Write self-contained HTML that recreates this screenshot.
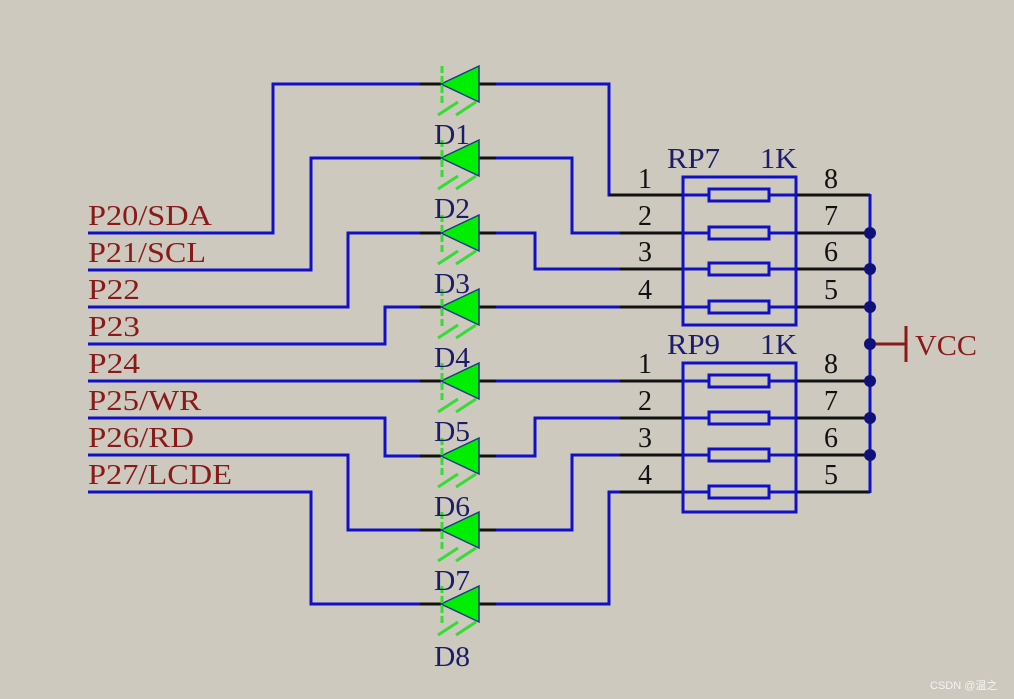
<!DOCTYPE html>
<html><head><meta charset="utf-8"><style>
html,body{margin:0;padding:0;background:#cdc9be;}
svg{display:block;}
.w{stroke:#1010c8;stroke-width:3;fill:none;}
.k{stroke:#111;stroke-width:3;fill:none;}
.lbl{font-family:"Liberation Serif",serif;font-size:29px;fill:#8a1a1a;}
.d{font-family:"Liberation Serif",serif;font-size:28px;fill:#1c1c6a;}
.n{font-family:"Liberation Serif",serif;font-size:28px;fill:#111;}
</style></head><body>
<svg width="1014" height="699" viewBox="0 0 1014 699" xmlns="http://www.w3.org/2000/svg">
<rect width="1014" height="699" fill="#cdc9be"/>
<g class="lbl" lengthAdjust="spacingAndGlyphs">
<text x="88" y="225" textLength="124" lengthAdjust="spacingAndGlyphs">P20/SDA</text>
<text x="88" y="262" textLength="118" lengthAdjust="spacingAndGlyphs">P21/SCL</text>
<text x="88" y="299" textLength="52" lengthAdjust="spacingAndGlyphs">P22</text>
<text x="88" y="336" textLength="52" lengthAdjust="spacingAndGlyphs">P23</text>
<text x="88" y="373" textLength="52" lengthAdjust="spacingAndGlyphs">P24</text>
<text x="88" y="410" textLength="113" lengthAdjust="spacingAndGlyphs">P25/WR</text>
<text x="88" y="447" textLength="106" lengthAdjust="spacingAndGlyphs">P26/RD</text>
<text x="88" y="484" textLength="144" lengthAdjust="spacingAndGlyphs">P27/LCDE</text>
</g>
<g class="w">
<polyline points="88,233 273,233 273,84 420,84"/>
<polyline points="88,270 311,270 311,158 420,158"/>
<polyline points="88,307 348,307 348,233 420,233"/>
<polyline points="88,344 385,344 385,307 420,307"/>
<polyline points="88,381 420,381"/>
<polyline points="88,418 385,418 385,456 420,456"/>
<polyline points="88,455 348,455 348,530 420,530"/>
<polyline points="88,492 311,492 311,604 420,604"/>
<polyline points="495,84 609,84 609,195 625,195"/>
<polyline points="495,158 572,158 572,233 625,233"/>
<polyline points="495,233 535,233 535,269 625,269"/>
<polyline points="495,307 625,307"/>
<polyline points="495,381 625,381"/>
<polyline points="495,456 535,456 535,418 625,418"/>
<polyline points="495,530 572,530 572,455 625,455"/>
<polyline points="495,604 609,604 609,492 625,492"/>
</g>
<g class="k">
<line x1="609" y1="195" x2="683" y2="195"/>
<line x1="620" y1="233" x2="683" y2="233"/>
<line x1="620" y1="269" x2="683" y2="269"/>
<line x1="620" y1="307" x2="683" y2="307"/>
<line x1="620" y1="381" x2="683" y2="381"/>
<line x1="620" y1="418" x2="683" y2="418"/>
<line x1="620" y1="455" x2="683" y2="455"/>
<line x1="620" y1="492" x2="683" y2="492"/>
<line x1="796" y1="195" x2="870" y2="195"/>
<line x1="796" y1="233" x2="870" y2="233"/>
<line x1="796" y1="269" x2="870" y2="269"/>
<line x1="796" y1="307" x2="870" y2="307"/>
<line x1="796" y1="381" x2="870" y2="381"/>
<line x1="796" y1="418" x2="870" y2="418"/>
<line x1="796" y1="455" x2="870" y2="455"/>
<line x1="796" y1="492" x2="870" y2="492"/>
</g>
<g>
<g transform="translate(0,84)"><line class="k" x1="420" y1="0" x2="441" y2="0"/><line class="k" x1="479" y1="0" x2="496" y2="0"/><polygon points="479,-18 479,18 441,0" fill="#00ee00" stroke="#1a3a8a" stroke-width="1.5"/><line x1="442" y1="-18" x2="442" y2="20" stroke="#33dd33" stroke-width="3" stroke-dasharray="7,3"/><line x1="458" y1="18" x2="438" y2="31" stroke="#33dd33" stroke-width="3"/><line x1="476" y1="18" x2="456" y2="31" stroke="#33dd33" stroke-width="3"/></g>
<g transform="translate(0,158)"><line class="k" x1="420" y1="0" x2="441" y2="0"/><line class="k" x1="479" y1="0" x2="496" y2="0"/><polygon points="479,-18 479,18 441,0" fill="#00ee00" stroke="#1a3a8a" stroke-width="1.5"/><line x1="442" y1="-18" x2="442" y2="20" stroke="#33dd33" stroke-width="3" stroke-dasharray="7,3"/><line x1="458" y1="18" x2="438" y2="31" stroke="#33dd33" stroke-width="3"/><line x1="476" y1="18" x2="456" y2="31" stroke="#33dd33" stroke-width="3"/></g>
<g transform="translate(0,233)"><line class="k" x1="420" y1="0" x2="441" y2="0"/><line class="k" x1="479" y1="0" x2="496" y2="0"/><polygon points="479,-18 479,18 441,0" fill="#00ee00" stroke="#1a3a8a" stroke-width="1.5"/><line x1="442" y1="-18" x2="442" y2="20" stroke="#33dd33" stroke-width="3" stroke-dasharray="7,3"/><line x1="458" y1="18" x2="438" y2="31" stroke="#33dd33" stroke-width="3"/><line x1="476" y1="18" x2="456" y2="31" stroke="#33dd33" stroke-width="3"/></g>
<g transform="translate(0,307)"><line class="k" x1="420" y1="0" x2="441" y2="0"/><line class="k" x1="479" y1="0" x2="496" y2="0"/><polygon points="479,-18 479,18 441,0" fill="#00ee00" stroke="#1a3a8a" stroke-width="1.5"/><line x1="442" y1="-18" x2="442" y2="20" stroke="#33dd33" stroke-width="3" stroke-dasharray="7,3"/><line x1="458" y1="18" x2="438" y2="31" stroke="#33dd33" stroke-width="3"/><line x1="476" y1="18" x2="456" y2="31" stroke="#33dd33" stroke-width="3"/></g>
<g transform="translate(0,381)"><line class="k" x1="420" y1="0" x2="441" y2="0"/><line class="k" x1="479" y1="0" x2="496" y2="0"/><polygon points="479,-18 479,18 441,0" fill="#00ee00" stroke="#1a3a8a" stroke-width="1.5"/><line x1="442" y1="-18" x2="442" y2="20" stroke="#33dd33" stroke-width="3" stroke-dasharray="7,3"/><line x1="458" y1="18" x2="438" y2="31" stroke="#33dd33" stroke-width="3"/><line x1="476" y1="18" x2="456" y2="31" stroke="#33dd33" stroke-width="3"/></g>
<g transform="translate(0,456)"><line class="k" x1="420" y1="0" x2="441" y2="0"/><line class="k" x1="479" y1="0" x2="496" y2="0"/><polygon points="479,-18 479,18 441,0" fill="#00ee00" stroke="#1a3a8a" stroke-width="1.5"/><line x1="442" y1="-18" x2="442" y2="20" stroke="#33dd33" stroke-width="3" stroke-dasharray="7,3"/><line x1="458" y1="18" x2="438" y2="31" stroke="#33dd33" stroke-width="3"/><line x1="476" y1="18" x2="456" y2="31" stroke="#33dd33" stroke-width="3"/></g>
<g transform="translate(0,530)"><line class="k" x1="420" y1="0" x2="441" y2="0"/><line class="k" x1="479" y1="0" x2="496" y2="0"/><polygon points="479,-18 479,18 441,0" fill="#00ee00" stroke="#1a3a8a" stroke-width="1.5"/><line x1="442" y1="-18" x2="442" y2="20" stroke="#33dd33" stroke-width="3" stroke-dasharray="7,3"/><line x1="458" y1="18" x2="438" y2="31" stroke="#33dd33" stroke-width="3"/><line x1="476" y1="18" x2="456" y2="31" stroke="#33dd33" stroke-width="3"/></g>
<g transform="translate(0,604)"><line class="k" x1="420" y1="0" x2="441" y2="0"/><line class="k" x1="479" y1="0" x2="496" y2="0"/><polygon points="479,-18 479,18 441,0" fill="#00ee00" stroke="#1a3a8a" stroke-width="1.5"/><line x1="442" y1="-18" x2="442" y2="20" stroke="#33dd33" stroke-width="3" stroke-dasharray="7,3"/><line x1="458" y1="18" x2="438" y2="31" stroke="#33dd33" stroke-width="3"/><line x1="476" y1="18" x2="456" y2="31" stroke="#33dd33" stroke-width="3"/></g>
</g>
<g class="d">
<text x="434" y="144" textLength="36" lengthAdjust="spacingAndGlyphs">D1</text>
<text x="434" y="218" textLength="36" lengthAdjust="spacingAndGlyphs">D2</text>
<text x="434" y="293" textLength="36" lengthAdjust="spacingAndGlyphs">D3</text>
<text x="434" y="367" textLength="36" lengthAdjust="spacingAndGlyphs">D4</text>
<text x="434" y="441" textLength="36" lengthAdjust="spacingAndGlyphs">D5</text>
<text x="434" y="516" textLength="36" lengthAdjust="spacingAndGlyphs">D6</text>
<text x="434" y="590" textLength="36" lengthAdjust="spacingAndGlyphs">D7</text>
<text x="434" y="666" textLength="36" lengthAdjust="spacingAndGlyphs">D8</text>
</g>
<g stroke="#1010c8" stroke-width="3" fill="none">
<rect x="683" y="177" width="113" height="148"/>
<rect x="683" y="363" width="113" height="149"/>
<line x1="683" y1="195" x2="796" y2="195"/><line x1="683" y1="233" x2="796" y2="233"/>
<line x1="683" y1="269" x2="796" y2="269"/><line x1="683" y1="307" x2="796" y2="307"/>
<line x1="683" y1="381" x2="796" y2="381"/><line x1="683" y1="418" x2="796" y2="418"/>
<line x1="683" y1="455" x2="796" y2="455"/><line x1="683" y1="492" x2="796" y2="492"/>
</g>
<g stroke="#1010c8" stroke-width="3" fill="#cdc9be">
<rect x="709" y="189" width="60" height="12"/><rect x="709" y="227" width="60" height="12"/>
<rect x="709" y="263" width="60" height="12"/><rect x="709" y="301" width="60" height="12"/>
<rect x="709" y="375" width="60" height="12"/><rect x="709" y="412" width="60" height="12"/>
<rect x="709" y="449" width="60" height="12"/><rect x="709" y="486" width="60" height="12"/>
</g>
<g class="d">
<text x="667" y="168" textLength="53" lengthAdjust="spacingAndGlyphs">RP7</text><text x="760" y="168" textLength="37" lengthAdjust="spacingAndGlyphs">1K</text>
<text x="667" y="354" textLength="53" lengthAdjust="spacingAndGlyphs">RP9</text><text x="760" y="354" textLength="37" lengthAdjust="spacingAndGlyphs">1K</text>
</g>
<g class="n">
<text x="638" y="188">1</text><text x="638" y="225">2</text><text x="638" y="261">3</text><text x="638" y="299">4</text>
<text x="638" y="373">1</text><text x="638" y="410">2</text><text x="638" y="447">3</text><text x="638" y="484">4</text>
<text x="824" y="188">8</text><text x="824" y="225">7</text><text x="824" y="261">6</text><text x="824" y="299">5</text>
<text x="824" y="373">8</text><text x="824" y="410">7</text><text x="824" y="447">6</text><text x="824" y="484">5</text>
</g>
<line x1="870" y1="194" x2="870" y2="493" stroke="#1010c8" stroke-width="3"/>
<g fill="#10107a">
<circle cx="870" cy="233" r="6"/><circle cx="870" cy="269" r="6"/><circle cx="870" cy="307" r="6"/>
<circle cx="870" cy="344" r="6"/><circle cx="870" cy="381" r="6"/><circle cx="870" cy="418" r="6"/><circle cx="870" cy="455" r="6"/>
</g>
<line x1="876" y1="344" x2="906" y2="344" stroke="#8a1a1a" stroke-width="3"/>
<line x1="906" y1="326" x2="906" y2="362" stroke="#8a1a1a" stroke-width="3"/>
<text x="915" y="355" class="lbl" textLength="62" lengthAdjust="spacingAndGlyphs">VCC</text>
<text x="930" y="689" font-family="'Liberation Sans','Noto Sans CJK SC',sans-serif" font-size="11" fill="#f4f4f4">CSDN @温之</text>
</svg>
</body></html>
